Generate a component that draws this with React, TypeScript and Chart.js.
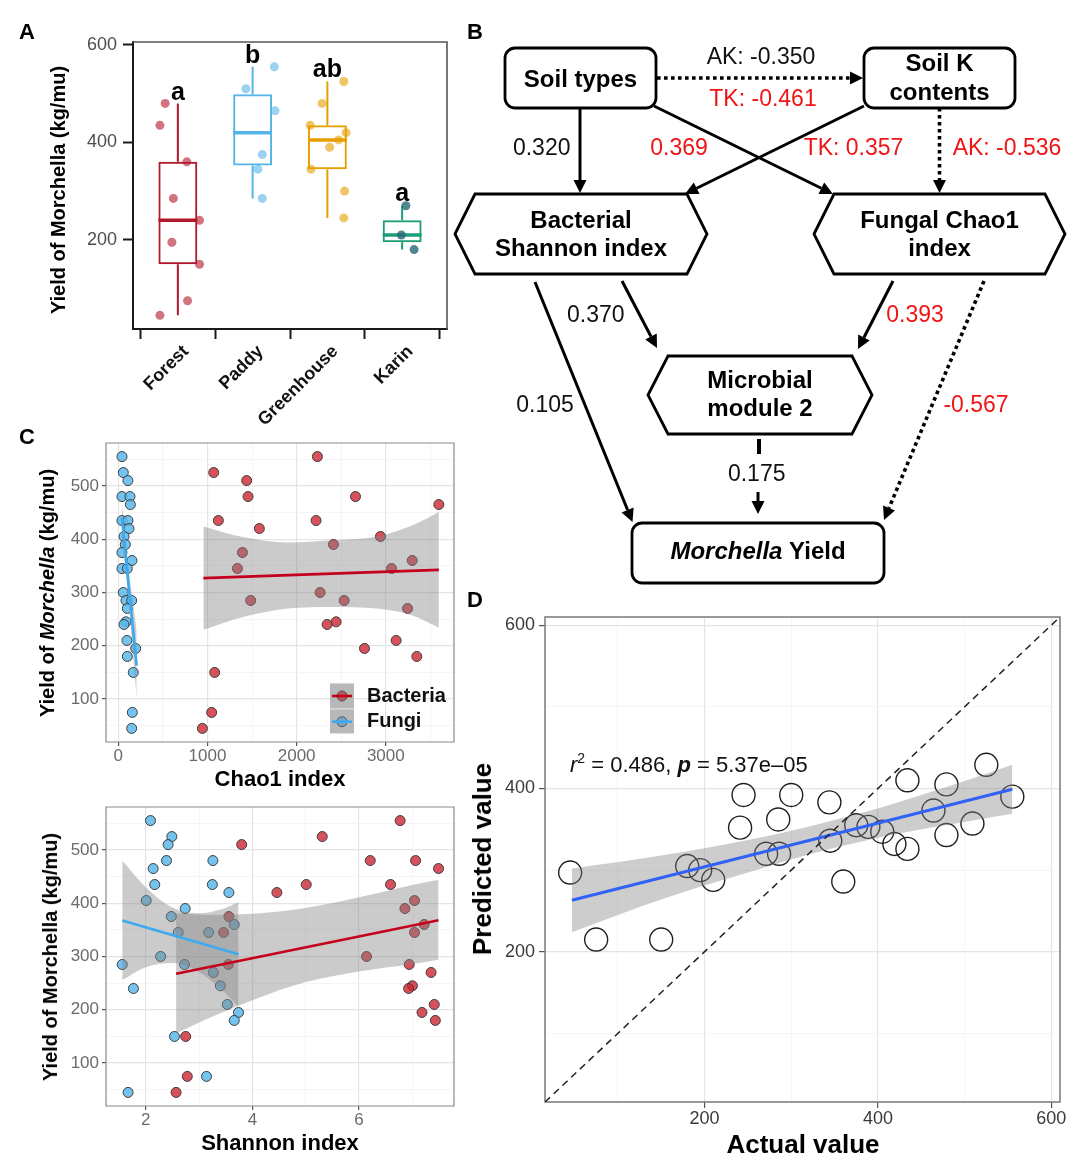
import React, { useEffect, useRef } from 'react';
import { Chart, registerables } from 'chart.js';

Chart.register(...registerables);

const FONT = '"Liberation Sans", Arial, Helvetica, sans-serif';

// ---------------- Panel A data ----------------
const SITES = ['Forest', 'Paddy', 'Greenhouse', 'Karin'];
const SITE_COLORS = ['#b2182b', '#56b4e9', '#e69f00', '#1b9e77'];
const SITE_POINT_COLORS = ['rgba(178,24,43,0.6)', 'rgba(86,180,233,0.6)', 'rgba(230,159,0,0.6)', 'rgba(38,104,118,0.8)'];
const BOX_Q1 = [150, 352.5, 345, 195];
const BOX_MEDIAN = [240, 420, 405, 210];
const BOX_Q3 = [360, 498.75, 435, 240];
const WHISKER_LOW = [45, 285, 245, 180];
const WHISKER_HIGH = [480, 555, 525, 270];
const SIG_LETTERS = ['a', 'b', 'ab', 'a'];
const SIG_LETTER_Y = [487, 563, 534, 279];
const YIELD_BY_SITE = [
  [480, 435, 360, 285, 240, 195, 150, 75, 45],
  [555, 510, 465, 375, 345, 285],
  [525, 480, 435, 420, 405, 390, 345, 300, 245],
  [270, 210, 180],
];
const JITTER_BY_SITE = [
  [-0.17, -0.24, 0.12, -0.06, 0.29, -0.08, 0.29, 0.13, -0.24],
  [0.29, -0.09, 0.3, 0.13, 0.07, 0.13],
  [0.22, -0.07, -0.23, 0.25, 0.15, 0.03, -0.22, 0.23, 0.22],
  [0.05, -0.01, 0.16],
];
const A_Y_TICKS = [200, 400, 600];

// ---------------- Panel B data ----------------
const NODE_LABELS: Record<string, string[]> = {
  soil: ['Soil types'],
  soilK: ['Soil K', 'contents'],
  bact: ['Bacterial', 'Shannon index'],
  fungal: ['Fungal Chao1', 'index'],
  micro: ['Microbial', 'module 2'],
  yieldNode: ['*Morchella* Yield'],
};
const PATH_LABELS = ['AK: -0.350', 'TK: -0.461', '0.320', '0.369', 'TK: 0.357', 'AK: -0.536', '0.370', '0.393', '0.105', '-0.567', '0.175'];
const PATH_LABEL_RED = [false, true, false, true, true, true, false, true, false, true, false];

// ---------------- Panel C data ----------------
const SAMPLE_YIELD = [555, 525, 510, 480, 480, 465, 435, 435, 420, 405, 390, 375, 360, 345, 345, 300, 285, 285, 270, 245, 240, 210, 195, 180, 150, 75, 45];
const BACT_CHAO1 = [2233, 1070, 1440, 1455, 2660, 3595, 1122, 2218, 1582, 2940, 2413, 1392, 3296, 1336, 3064, 2263, 1485, 2533, 3244, 2443, 2342, 3116, 2761, 3348, 1081, 1047, 943];
const FUNGI_CHAO1 = [41, 56, 108, 41, 131, 135, 41, 108, 120, 64, 79, 41, 153, 41, 101, 56, 86, 150, 101, 86, 64, 97, 195, 101, 168, 157, 150];
const BACT_SHANNON = [6.77, 5.31, 3.8, 6.21, 7.06, 7.49, 5.01, 6.59, 4.46, 7.04, 6.86, 3.56, 7.22, 3.46, 7.04, 6.14, 3.55, 6.94, 7.35, 7.0, 6.93, 7.41, 7.18, 7.43, 2.75, 2.78, 2.57];
const FUNGI_SHANNON = [2.09, 2.49, 2.42, 2.39, 3.26, 2.14, 2.17, 3.25, 3.56, 2.01, 2.74, 2.48, 3.66, 2.61, 3.18, 2.28, 1.56, 2.73, 3.27, 3.4, 1.77, 3.53, 3.74, 3.66, 2.54, 3.14, 1.67];

const BACT_FIT_CHAO1_X = [954, 3595];
const BACT_FIT_CHAO1_Y = [327, 342.5];
const BACT_BAND_CHAO1_X = [954, 1400, 1900, 2400, 2900, 3300, 3595];
const BACT_BAND_CHAO1_HI = [424, 404, 394, 398, 405, 426, 451];
const BACT_BAND_CHAO1_LO = [230, 254, 270, 273, 270, 257, 234];
const FUNGI_FIT_CHAO1_X = [41, 206];
const FUNGI_FIT_CHAO1_Y = [440, 163];
const FUNGI_BAND_CHAO1_X = [41, 80, 120, 160, 206];
const FUNGI_BAND_CHAO1_HI = [468, 401, 336, 285, 228];
const FUNGI_BAND_CHAO1_LO = [402, 341, 275, 193, 100];

const BACT_FIT_SHANNON_X = [2.57, 7.49];
const BACT_FIT_SHANNON_Y = [267.5, 368];
const BACT_BAND_SHANNON_X = [2.57, 3.2, 4.0, 5.0, 6.0, 7.0, 7.49];
const BACT_BAND_SHANNON_HI = [381, 378, 380, 391, 411, 434, 444];
const BACT_BAND_SHANNON_LO = [156, 185, 218, 252, 272, 286, 294];
const FUNGI_FIT_SHANNON_X = [1.56, 3.74];
const FUNGI_FIT_SHANNON_Y = [367.5, 304.4];
const FUNGI_BAND_SHANNON_X = [1.56, 2.0, 2.5, 3.0, 3.4, 3.74];
const FUNGI_BAND_SHANNON_HI = [480, 430, 392, 381, 388, 402];
const FUNGI_BAND_SHANNON_LO = [256, 280, 288, 271, 240, 206];

const LEGEND_LABELS = ['Bacteria', 'Fungi'];

// ---------------- Panel D data ----------------
const ACTUAL = [45, 75, 150, 180, 195, 210, 241, 245, 271, 285, 286, 300, 344, 345, 360, 375, 389, 405, 419, 434, 434, 464, 479, 479, 509, 525, 555];
const PREDICTED = [297, 215, 215, 305, 300, 288, 352, 392, 320, 362, 320, 392, 383, 336, 286, 355, 353, 347, 332, 410, 326, 373, 405, 343, 357, 429, 390];
const D_FIT_X = [47, 555];
const D_FIT_Y = [263, 399];
const D_BAND_X = [47, 150, 250, 330, 420, 500, 555];
const D_BAND_HI = [302, 318, 337, 356, 382, 409, 429];
const D_BAND_LO = [224, 264, 297, 322, 344, 359, 369];
const D_RANGE = [16, 610];

// ---------------- Styles / layout ----------------
const BACT_FILL = 'rgba(205,38,50,0.8)';
const FUNGI_FILL = 'rgba(90,185,235,0.85)';
const BACT_LINE = '#c4001a';
const FUNGI_LINE = '#3daaf0';
const BAND_FILL = 'rgba(130,130,130,0.42)';
const RED_TEXT = '#f01414';

type Rect = { left: number; top: number; w: number; h: number };
type Area = { left: number; top: number; right: number; bottom: number };

const CANVAS_A: Rect = { left: 0, top: 0, w: 462, h: 445 };
const AREA_A: Area = { left: 133, top: 42, right: 447, bottom: 329 };
const CANVAS_B: Rect = { left: 450, top: 0, w: 630, h: 595 };
const CANVAS_C1: Rect = { left: 0, top: 420, w: 470, h: 370 };
const AREA_C1: Area = { left: 106, top: 443, right: 454, bottom: 742 };
const CANVAS_C2: Rect = { left: 0, top: 790, w: 470, h: 381 };
const AREA_C2: Area = { left: 106, top: 807, right: 454, bottom: 1106 };
const CANVAS_D: Rect = { left: 470, top: 595, w: 610, h: 576 };
const AREA_D: Area = { left: 545, top: 617, right: 1060, bottom: 1102 };

const B_LAYOUT = {
  nodes: {
    soil: { shape: 'round', x0: 505, x1: 656, y0: 48, y1: 108, lineY: [80] },
    soilK: { shape: 'round', x0: 864, x1: 1015, y0: 48, y1: 108, lineY: [64.5, 93.5] },
    bact: { shape: 'hex', x0: 455, x1: 707, y0: 194, y1: 274, lineY: [221, 249.5] },
    fungal: { shape: 'hex', x0: 814, x1: 1065, y0: 194, y1: 274, lineY: [221, 249.5] },
    micro: { shape: 'hex', x0: 648, x1: 872, y0: 356, y1: 434, lineY: [381, 409.5] },
    yieldNode: { shape: 'round', x0: 632, x1: 884, y0: 523, y1: 583, lineY: [552] },
  } as Record<string, any>,
  edges: [
    { from: [657, 78], to: [863, 78], dotted: true, head: true },
    { from: [580, 108], to: [580, 193], dotted: false, head: true },
    { from: [654, 106], to: [833, 194], dotted: false, head: true },
    { from: [864, 106], to: [685, 194], dotted: false, head: true },
    { from: [939.5, 108], to: [939.5, 193], dotted: true, head: true },
    { from: [535, 282], to: [632.5, 522], dotted: false, head: true },
    { from: [622, 281], to: [657, 348], dotted: false, head: true },
    { from: [893, 281], to: [858, 349], dotted: false, head: true },
    { from: [984, 281], to: [884, 520], dotted: true, head: true },
    { from: [759, 439], to: [759, 454], dotted: false, head: false, width: 4 },
    { from: [758, 492], to: [758, 514], dotted: false, head: true },
  ],
  labelPos: [
    [761, 57.7], [763, 99.3], [541.7, 149], [679, 149], [853.5, 149], [1007, 149],
    [595.8, 315.5], [915, 316], [545, 406], [976, 406], [756.7, 474.3],
  ],
};

// ---------------- helpers ----------------
function layoutFor(c: Rect, a: Area) {
  return {
    padding: { left: 0, top: a.top - c.top, right: c.left + c.w - a.right, bottom: 0 },
    yWidth: a.left - c.left,
    xHeight: c.top + c.h - a.bottom,
  };
}

const pts = (xs: number[], ys: number[]) => xs.map((x, i) => ({ x, y: ys[i] }));

function bwAxis(axis: 'x' | 'y', min: number, max: number, majors: number[], minors: number[], size: number,
  labelColor: string, fontSize: number, tickLen: number, pad: number) {
  const all = [...majors, ...minors].sort((a, b) => a - b);
  const major = (v: any) => majors.some((m) => Math.abs(m - v) < 1e-6);
  return {
    type: 'linear',
    position: axis === 'x' ? 'bottom' : 'left',
    min, max, bounds: 'data',
    afterBuildTicks: (s: any) => { s.ticks = all.map((v) => ({ value: v })); },
    afterFit: (s: any) => { if (axis === 'x') s.height = size; else s.width = size; },
    grid: {
      color: (c: any) => (major(c.tick?.value) ? '#e4e4e4' : '#f2f2f2'),
      lineWidth: (c: any) => (major(c.tick?.value) ? 1.2 : 0.8),
      tickColor: (c: any) => (major(c.tick?.value) ? '#555' : 'rgba(0,0,0,0)'),
      tickWidth: 1.2,
      tickLength: tickLen,
      drawTicks: true,
      drawOnChartArea: true,
    },
    border: { display: false },
    ticks: {
      autoSkip: false, maxRotation: 0, minRotation: 0, padding: pad, color: labelColor,
      font: { size: fontSize, family: FONT },
      callback: (v: any) => (major(v) ? String(v) : ''),
    },
  };
}

function commonOptions(L: any, scales: any) {
  return {
    responsive: false,
    animation: false,
    devicePixelRatio: 1,
    events: [],
    layout: { padding: L.padding },
    plugins: { legend: { display: false }, tooltip: { enabled: false } },
    scales,
  };
}

function framePlugin(color: string, width: number, sides = 'trbl') {
  return {
    id: 'frame',
    beforeDatasetsDraw(chart: any) {
      const { ctx, chartArea: a } = chart;
      ctx.save();
      ctx.strokeStyle = color;
      ctx.lineWidth = width;
      ctx.lineCap = 'square';
      ctx.beginPath();
      if (sides.includes('t')) { ctx.moveTo(a.left, a.top); ctx.lineTo(a.right, a.top); }
      if (sides.includes('r')) { ctx.moveTo(a.right, a.top); ctx.lineTo(a.right, a.bottom); }
      if (sides.includes('b')) { ctx.moveTo(a.left, a.bottom); ctx.lineTo(a.right, a.bottom); }
      if (sides.includes('l')) { ctx.moveTo(a.left, a.top); ctx.lineTo(a.left, a.bottom); }
      ctx.stroke();
      ctx.restore();
    },
  };
}

function pointsDS(xs: number[], ys: number[], fill: string) {
  return {
    type: 'scatter', data: pts(xs, ys), pointRadius: 5, pointBackgroundColor: fill,
    pointBorderColor: '#3c3c3c', pointBorderWidth: 1, order: 3,
  };
}
function bandDS(xs: number[], lo: number[], hi: number[], fill: string) {
  const base = {
    type: 'line', pointRadius: 0, borderWidth: 0, borderColor: 'rgba(0,0,0,0)',
    tension: 0.4, cubicInterpolationMode: 'monotone', order: 2,
  };
  return [
    { ...base, data: pts(xs, lo), fill: false },
    { ...base, data: pts(xs, hi), fill: '-1', backgroundColor: fill },
  ];
}
function lineDS(xs: number[], ys: number[], color: string, width: number, dash: number[] = [], order = 1) {
  return {
    type: 'line', data: pts(xs, ys), borderColor: color, borderWidth: width, borderDash: dash,
    pointRadius: 0, fill: false, tension: 0, order,
  };
}

// ---------------- Panel A ----------------
function configA() {
  const L = layoutFor(CANVAS_A, AREA_A);
  const jitterData: any[] = [];
  const jitterColors: string[] = [];
  YIELD_BY_SITE.forEach((ys, s) => ys.forEach((y, j) => {
    jitterData.push({ x: s + 1 + JITTER_BY_SITE[s][j], y });
    jitterColors.push(SITE_POINT_COLORS[s]);
  }));
  const boxPlugin = {
    id: 'boxExtras',
    afterDatasetDraw(chart: any, args: any) {
      if (args.index !== 0) return;
      const { ctx } = chart;
      const yS = chart.scales.y;
      args.meta.data.forEach((bar: any, i: number) => {
        const { x, width } = bar.getProps(['x', 'width'], true);
        ctx.save();
        ctx.strokeStyle = SITE_COLORS[i];
        ctx.lineWidth = 2;
        ctx.beginPath();
        ctx.moveTo(x, yS.getPixelForValue(BOX_Q3[i]));
        ctx.lineTo(x, yS.getPixelForValue(WHISKER_HIGH[i]));
        ctx.moveTo(x, yS.getPixelForValue(BOX_Q1[i]));
        ctx.lineTo(x, yS.getPixelForValue(WHISKER_LOW[i]));
        ctx.stroke();
        ctx.lineWidth = 3.5;
        const my = yS.getPixelForValue(BOX_MEDIAN[i]);
        ctx.beginPath();
        ctx.moveTo(x - width / 2, my);
        ctx.lineTo(x + width / 2, my);
        ctx.stroke();
        ctx.restore();
      });
    },
    afterDatasetsDraw(chart: any) {
      const { ctx } = chart;
      const xS = chart.scales.x, yS = chart.scales.y;
      ctx.save();
      ctx.fillStyle = '#000';
      ctx.font = `bold 25px ${FONT}`;
      ctx.textAlign = 'center';
      ctx.textBaseline = 'alphabetic';
      SIG_LETTERS.forEach((t, i) => ctx.fillText(t, xS.getPixelForValue(i + 1), yS.getPixelForValue(SIG_LETTER_Y[i])));
      ctx.restore();
    },
  };
  return {
    type: 'scatter',
    data: {
      datasets: [
        {
          type: 'bar',
          data: SITES.map((_, i) => ({ x: i + 1, y: [BOX_Q1[i], BOX_Q3[i]] })),
          backgroundColor: 'rgba(0,0,0,0)', borderColor: SITE_COLORS, borderWidth: 2,
          borderSkipped: false, barPercentage: 0.52, categoryPercentage: 1, order: 2,
        },
        {
          type: 'scatter', data: jitterData, pointRadius: 4.5, pointBorderWidth: 0,
          pointBackgroundColor: jitterColors, order: 1,
        },
      ],
    },
    options: commonOptions(L, {
      x: {
        type: 'linear', min: 0.4, max: 4.6, bounds: 'data', offset: false,
        afterBuildTicks: (s: any) => { s.ticks = SITES.map((_, i) => ({ value: i + 1 })); },
        afterFit: (s: any) => { s.height = L.xHeight; },
        grid: { drawOnChartArea: false, drawTicks: true, tickLength: 10, tickColor: '#1a1a1a', tickWidth: 2 },
        border: { display: true, color: '#1a1a1a', width: 2 },
        ticks: {
          autoSkip: false, minRotation: 45, maxRotation: 45, labelOffset: 8, padding: 2, color: '#111',
          font: { size: 18, weight: 'bold', family: FONT },
          callback: (v: any) => SITES[Math.round(v) - 1] ?? '',
        },
      },
      y: {
        type: 'linear', min: 17, max: 606, bounds: 'data',
        afterBuildTicks: (s: any) => { s.ticks = A_Y_TICKS.map((v) => ({ value: v })); },
        afterFit: (s: any) => { s.width = L.yWidth; },
        grid: { drawOnChartArea: false, drawTicks: true, tickLength: 10, tickColor: '#1a1a1a', tickWidth: 2 },
        border: { display: true, color: '#1a1a1a', width: 2 },
        ticks: { padding: 6, color: '#4d4d4d', font: { size: 18, family: FONT }, callback: (v: any) => String(v) },
      },
    }),
    plugins: [framePlugin('#555', 1.6, 'tr'), boxPlugin],
  };
}

// ---------------- Panel B ----------------
function drawRich(ctx: any, text: string, cx: number, cy: number, size: number, bold: boolean, color: string) {
  const parts = text.split('*');
  const fonts = parts.map((_, i) => `${i % 2 ? 'italic ' : ''}${bold ? 'bold ' : ''}${size}px ${FONT}`);
  let total = 0;
  const widths = parts.map((p, i) => { ctx.font = fonts[i]; const w = ctx.measureText(p).width; total += w; return w; });
  let x = cx - total / 2;
  ctx.textAlign = 'left';
  ctx.textBaseline = 'middle';
  ctx.fillStyle = color;
  parts.forEach((p, i) => { ctx.font = fonts[i]; ctx.fillText(p, x, cy); x += widths[i]; });
}

function configB() {
  const diagram = {
    id: 'pathDiagram',
    afterDraw(chart: any) {
      const { ctx } = chart;
      const X = (v: number) => chart.scales.x.getPixelForValue(v);
      const Y = (v: number) => chart.scales.y.getPixelForValue(v);
      ctx.save();
      ctx.strokeStyle = '#000';
      ctx.fillStyle = '#000';
      // edges
      B_LAYOUT.edges.forEach((e: any) => {
        const x1 = X(e.from[0]), y1 = Y(e.from[1]), x2 = X(e.to[0]), y2 = Y(e.to[1]);
        const ang = Math.atan2(y2 - y1, x2 - x1);
        const head = e.head ? 13 : 0;
        const hw = 6.5;
        const bx = x2 - head * Math.cos(ang), by = y2 - head * Math.sin(ang);
        ctx.beginPath();
        ctx.lineWidth = e.width ?? (e.dotted ? 3.6 : 3);
        ctx.lineCap = 'butt';
        ctx.setLineDash(e.dotted ? [3.6, 3.4] : []);
        ctx.moveTo(x1, y1);
        ctx.lineTo(bx, by);
        ctx.stroke();
        ctx.setLineDash([]);
        if (e.head) {
          ctx.beginPath();
          ctx.moveTo(x2, y2);
          ctx.lineTo(bx + hw * Math.sin(ang), by - hw * Math.cos(ang));
          ctx.lineTo(bx - hw * Math.sin(ang), by + hw * Math.cos(ang));
          ctx.closePath();
          ctx.fill();
        }
      });
      // nodes
      Object.keys(B_LAYOUT.nodes).forEach((id) => {
        const n = B_LAYOUT.nodes[id];
        const x0 = X(n.x0), x1 = X(n.x1), y0 = Y(n.y0), y1 = Y(n.y1);
        ctx.beginPath();
        if (n.shape === 'hex') {
          const cy = (y0 + y1) / 2;
          const ins = 20;
          ctx.moveTo(x0, cy);
          ctx.lineTo(x0 + ins, y0);
          ctx.lineTo(x1 - ins, y0);
          ctx.lineTo(x1, cy);
          ctx.lineTo(x1 - ins, y1);
          ctx.lineTo(x0 + ins, y1);
          ctx.closePath();
        } else {
          ctx.roundRect(x0, y0, x1 - x0, y1 - y0, 10);
        }
        ctx.fillStyle = '#fff';
        ctx.fill();
        ctx.lineWidth = 2.8;
        ctx.lineJoin = 'miter';
        ctx.strokeStyle = '#000';
        ctx.stroke();
        const cx = (x0 + x1) / 2;
        NODE_LABELS[id].forEach((line, k) => drawRich(ctx, line, cx, Y(n.lineY[k]), 24, true, '#000'));
      });
      // path coefficients
      PATH_LABELS.forEach((t, i) => {
        const [lx, ly] = B_LAYOUT.labelPos[i];
        drawRich(ctx, t, X(lx), Y(ly), 23, false, PATH_LABEL_RED[i] ? RED_TEXT : '#111');
      });
      ctx.restore();
    },
  };
  return {
    type: 'scatter',
    data: { datasets: [] },
    options: {
      responsive: false, animation: false, devicePixelRatio: 1, events: [],
      layout: { padding: 0 },
      plugins: { legend: { display: false }, tooltip: { enabled: false } },
      scales: {
        x: { type: 'linear', display: false, min: CANVAS_B.left, max: CANVAS_B.left + CANVAS_B.w },
        y: { type: 'linear', display: false, min: CANVAS_B.top, max: CANVAS_B.top + CANVAS_B.h, reverse: true },
      },
    },
    plugins: [diagram],
  };
}

// ---------------- Panel C ----------------
const legendPlugin = {
  id: 'ggLegend',
  afterDatasetsDraw(chart: any) {
    const { ctx, chartArea: a } = chart;
    const x0 = a.right - 124, y0 = a.bottom - 59, w = 24, h = 50;
    ctx.save();
    ctx.fillStyle = '#d6d6d6';
    ctx.fillRect(x0, y0, w, h);
    const fills = [BACT_FILL, FUNGI_FILL];
    const lines = [BACT_LINE, FUNGI_LINE];
    LEGEND_LABELS.forEach((lab, i) => {
      const cy = y0 + 13 + i * 25.7;
      ctx.beginPath();
      ctx.arc(x0 + w / 2, cy, 5, 0, Math.PI * 2);
      ctx.fillStyle = fills[i];
      ctx.fill();
      ctx.strokeStyle = '#3c3c3c';
      ctx.lineWidth = 1;
      ctx.stroke();
      ctx.fillStyle = 'rgba(130,130,130,0.35)';
      ctx.fillRect(x0, cy - 12, w, 24);
      ctx.beginPath();
      ctx.strokeStyle = lines[i];
      ctx.lineWidth = 2.6;
      ctx.moveTo(x0 + 2, cy);
      ctx.lineTo(x0 + w - 2, cy);
      ctx.stroke();
      ctx.fillStyle = '#111';
      ctx.font = `bold 20px ${FONT}`;
      ctx.textAlign = 'left';
      ctx.textBaseline = 'middle';
      ctx.fillText(lab, x0 + 37, cy);
    });
    ctx.restore();
  },
};

const Y_MAJ = [100, 200, 300, 400, 500];
const Y_MIN = [50, 150, 250, 350, 450, 550];

function configC1() {
  const L = layoutFor(CANVAS_C1, AREA_C1);
  return {
    type: 'scatter',
    data: {
      datasets: [
        pointsDS(BACT_CHAO1, SAMPLE_YIELD, BACT_FILL),
        pointsDS(FUNGI_CHAO1, SAMPLE_YIELD, FUNGI_FILL),
        ...bandDS(BACT_BAND_CHAO1_X, BACT_BAND_CHAO1_LO, BACT_BAND_CHAO1_HI, BAND_FILL),
        ...bandDS(FUNGI_BAND_CHAO1_X, FUNGI_BAND_CHAO1_LO, FUNGI_BAND_CHAO1_HI, BAND_FILL),
        lineDS(BACT_FIT_CHAO1_X, BACT_FIT_CHAO1_Y, BACT_LINE, 2.6),
        lineDS(FUNGI_FIT_CHAO1_X, FUNGI_FIT_CHAO1_Y, FUNGI_LINE, 2.6),
      ],
    },
    options: commonOptions(L, {
      x: bwAxis('x', -138, 3765, [0, 1000, 2000, 3000], [500, 1500, 2500, 3500], L.xHeight, '#6b6b6b', 17, 4, 0),
      y: bwAxis('y', 19.5, 580.5, Y_MAJ, Y_MIN, L.yWidth, '#6b6b6b', 17, 4, 3),
    }),
    plugins: [framePlugin('#8a8a8a', 1.2), legendPlugin],
  };
}

function configC2() {
  const L = layoutFor(CANVAS_C2, AREA_C2);
  return {
    type: 'scatter',
    data: {
      datasets: [
        pointsDS(BACT_SHANNON, SAMPLE_YIELD, BACT_FILL),
        pointsDS(FUNGI_SHANNON, SAMPLE_YIELD, FUNGI_FILL),
        ...bandDS(BACT_BAND_SHANNON_X, BACT_BAND_SHANNON_LO, BACT_BAND_SHANNON_HI, BAND_FILL),
        ...bandDS(FUNGI_BAND_SHANNON_X, FUNGI_BAND_SHANNON_LO, FUNGI_BAND_SHANNON_HI, BAND_FILL),
        lineDS(BACT_FIT_SHANNON_X, BACT_FIT_SHANNON_Y, BACT_LINE, 2.6),
        lineDS(FUNGI_FIT_SHANNON_X, FUNGI_FIT_SHANNON_Y, FUNGI_LINE, 2.6),
      ],
    },
    options: commonOptions(L, {
      x: bwAxis('x', 1.256, 7.78, [2, 4, 6], [3, 5, 7], L.xHeight, '#6b6b6b', 17, 4, 0),
      y: bwAxis('y', 19.5, 580.5, Y_MAJ, Y_MIN, L.yWidth, '#6b6b6b', 17, 4, 3),
    }),
    plugins: [framePlugin('#8a8a8a', 1.2)],
  };
}

// ---------------- Panel D ----------------
function configD() {
  const L = layoutFor(CANVAS_D, AREA_D);
  return {
    type: 'scatter',
    data: {
      datasets: [
        {
          type: 'scatter', data: pts(ACTUAL, PREDICTED), pointRadius: 11.5,
          pointBackgroundColor: 'rgba(0,0,0,0)', pointBorderColor: '#1e1e1e', pointBorderWidth: 1.4, order: 4,
        },
        ...bandDS(D_BAND_X, D_BAND_LO, D_BAND_HI, 'rgba(130,130,130,0.4)').map((d) => ({ ...d, order: 3 })),
        lineDS(D_FIT_X, D_FIT_Y, '#2f62f5', 3, [], 2),
        lineDS(D_RANGE, D_RANGE, '#222', 1.5, [7, 5], 1),
      ],
    },
    options: commonOptions(L, {
      x: bwAxis('x', D_RANGE[0], D_RANGE[1], [200, 400, 600], [100, 300, 500], L.xHeight, '#3a3a3a', 18, 6, 0),
      y: bwAxis('y', D_RANGE[0], D_RANGE[1], [200, 400, 600], [100, 300, 500], L.yWidth, '#3a3a3a', 18, 6, 4),
    }),
    plugins: [framePlugin('#7a7a7a', 1.5)],
  };
}

// ---------------- React ----------------
function ChartCanvas({ rect, make }: { rect: Rect; make: () => any }) {
  const ref = useRef<HTMLCanvasElement | null>(null);
  useEffect(() => {
    const chart = new Chart(ref.current as any, make());
    return () => chart.destroy();
  }, []);
  return (
    <canvas
      ref={ref}
      width={rect.w}
      height={rect.h}
      style={{ position: 'absolute', left: rect.left, top: rect.top, width: rect.w, height: rect.h }}
    />
  );
}

function Label({ x, y, size, rotate = false, children, weight = 'bold' }: any) {
  return (
    <div
      style={{
        position: 'absolute', left: x, top: y,
        transform: `translate(-50%, -50%)${rotate ? ' rotate(-90deg)' : ''}`,
        fontFamily: FONT, fontSize: size, fontWeight: weight as any, lineHeight: 1,
        whiteSpace: 'nowrap', color: '#000',
      }}
    >
      {children}
    </div>
  );
}

export default function App() {
  return (
    <div style={{ position: 'absolute', left: 0, top: 0, width: 1080, height: 1171, background: '#fff', overflow: 'hidden' }}>
      <ChartCanvas rect={CANVAS_A} make={configA} />
      <ChartCanvas rect={CANVAS_B} make={configB} />
      <ChartCanvas rect={CANVAS_C1} make={configC1} />
      <ChartCanvas rect={CANVAS_C2} make={configC2} />
      <ChartCanvas rect={CANVAS_D} make={configD} />

      <Label x={27} y={32} size={22}>A</Label>
      <Label x={475} y={32} size={22}>B</Label>
      <Label x={27} y={437} size={22}>C</Label>
      <Label x={475} y={600} size={22}>D</Label>

      <Label x={58} y={190} size={20} rotate>Yield of Morchella (kg/mu)</Label>
      <Label x={47} y={593} size={20} rotate>Yield of <i>Morchella</i> (kg/mu)</Label>
      <Label x={280} y={779} size={22}>Chao1 index</Label>
      <Label x={50} y={957} size={20} rotate>Yield of Morchella (kg/mu)</Label>
      <Label x={280} y={1143} size={22}>Shannon index</Label>
      <Label x={482} y={859} size={26} rotate>Predicted value</Label>
      <Label x={803} y={1144} size={26}>Actual value</Label>

      <div
        style={{
          position: 'absolute', left: 570, top: 754, fontFamily: FONT, fontSize: 22, lineHeight: '22px',
          whiteSpace: 'nowrap', color: '#111',
        }}
      >
        <i>r</i>
        <span style={{ fontSize: 14, position: 'relative', top: -9 }}>2</span>
        {' = 0.486, '}
        <b><i>p</i></b>
        {' = 5.37e–05'}
      </div>
    </div>
  );
}
